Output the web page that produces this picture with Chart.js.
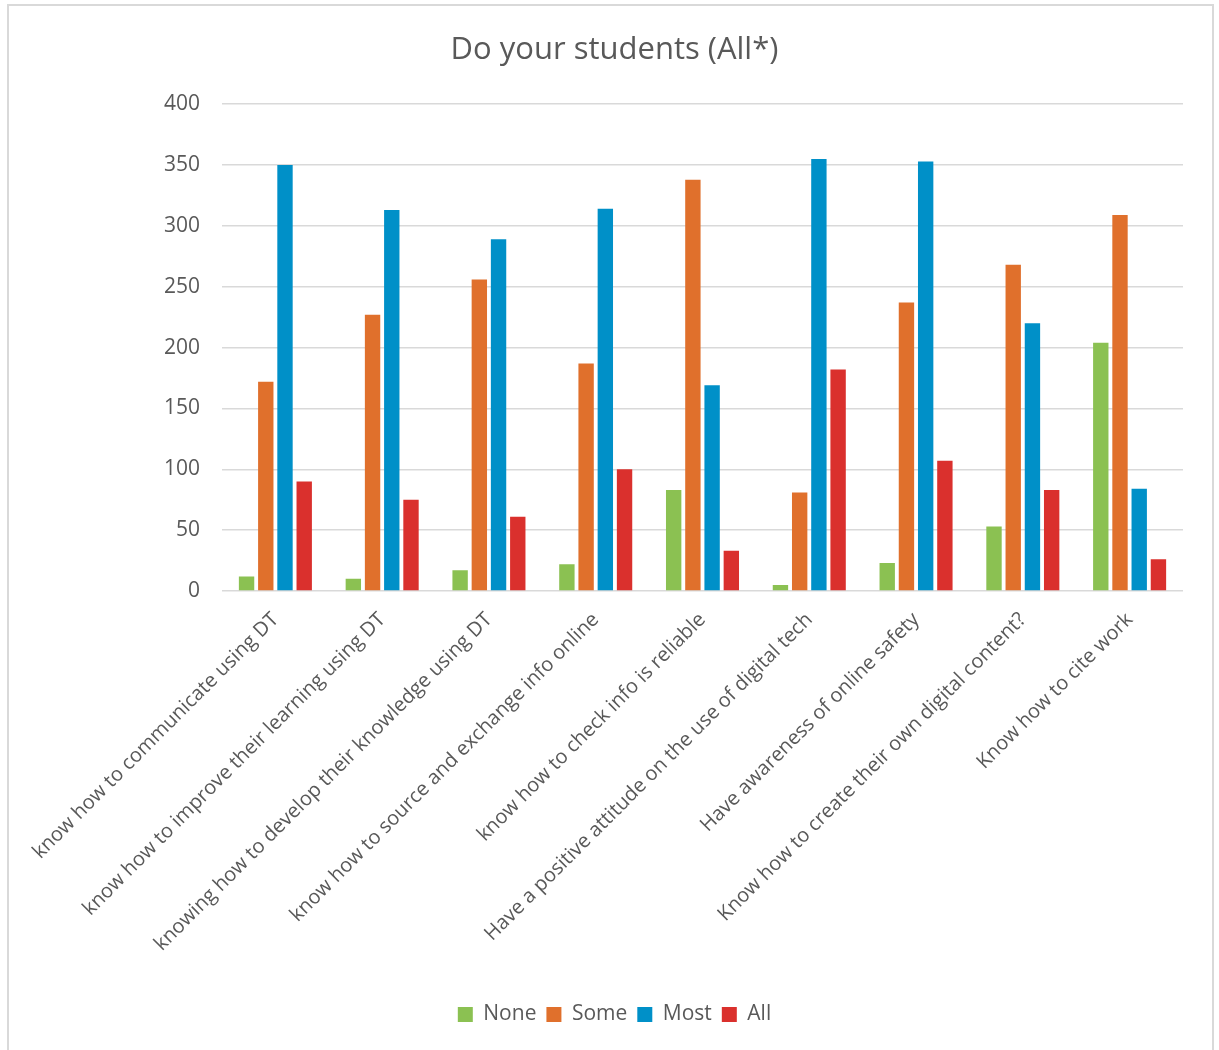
<!DOCTYPE html>
<html>
<head>
<meta charset="utf-8">
<script src="https://cdn.jsdelivr.net/npm/chart.js@4/dist/chart.umd.min.js"></script>
<style>
  html, body { margin: 0; padding: 0; background: #fff; }
  #wrap { position: relative; width: 1219px; height: 1050px; }
  #frame { position: absolute; left: 7px; top: 4px; width: 1203px; height: 1060px;
           border: 2px solid #d9d9d9; pointer-events: none; }
  canvas { position: absolute; left: 0; top: 0; }
</style>
</head>
<body>
<div id="wrap">
  <canvas id="chart" width="1219" height="1050"></canvas>
  <div id="frame"></div>
</div>
<script>
// categories and series
const categories = [
    'know how to communicate using DT',
    'know how to improve their learning using DT',
    'knowing how to develop their knowledge using DT',
    'know how to source and exchange info online',
    'know how to check info is reliable',
    'Have a positive attitude on the use of digital tech',
    'Have awareness of online safety',
    'Know how to create their own digital content?',
    'Know how to cite work'
];
const noneValues = [12, 10, 17, 22, 83, 5, 23, 53, 204];
const someValues = [172, 227, 256, 187, 338, 81, 237, 268, 309];
const mostValues = [350, 313, 289, 314, 169, 355, 353, 220, 84];
const allValues = [90, 75, 61, 100, 33, 182, 107, 83, 26];
const yTicks = [0, 50, 100, 150, 200, 250, 300, 350, 400];

const textColor = '#595959';
const fontFamily = '"Open Sans", "Liberation Sans", sans-serif';

function makeSet(label, data, color) {
    return {
        label: label,
        data: data,
        backgroundColor: color,
        borderWidth: 0,
        categoryPercentage: 0.72,
        barPercentage: 0.8
    };
}

const ctx = document.getElementById('chart').getContext('2d');
window.studentChart = new Chart(ctx, {
    type: 'bar',
    data: {
        labels: categories,
        datasets: [
            makeSet('None', noneValues, '#8bc152'),
            makeSet('Some', someValues, '#e0702c'),
            makeSet('Most', mostValues, '#0090c8'),
            makeSet('All', allValues, '#da302d')
        ]
    },
    options: {
        responsive: false,
        animation: false,
        layout: { padding: { left: 46, right: 36, top: 0, bottom: 15 } },
        plugins: {
            title: {
                display: true,
                text: 'Do your students (All*)',
                color: textColor,
                font: { family: fontFamily, size: 31, weight: 'normal' },
                padding: { top: 32, bottom: 35 }
            },
            legend: {
                position: 'bottom',
                labels: {
                    color: textColor,
                    font: { family: fontFamily, size: 21 },
                    boxWidth: 15,
                    boxHeight: 15,
                    padding: 10
                }
            },
            tooltip: { enabled: false }
        },
        scales: {
            x: {
                grid: { display: false },
                border: { display: false },
                ticks: {
                    color: textColor,
                    font: { family: fontFamily, size: 20 },
                    maxRotation: 45,
                    minRotation: 45,
                    autoSkip: false,
                    padding: 9
                },
                afterFit: function(scale) { scale.height = 403; }
            },
            y: {
                min: 0,
                max: 400,
                afterBuildTicks: function(scale) {
                    scale.ticks = yTicks.map(v => ({ value: v }));
                },
                grid: { color: '#d9d9d9', lineWidth: 1.5, drawTicks: false },
                border: { display: false },
                ticks: {
                    color: textColor,
                    font: { family: fontFamily, size: 21 },
                    padding: 22
                },
                afterFit: function(scale) { scale.width = 176; }
            }
        }
    }
});
</script>
</body>
</html>
